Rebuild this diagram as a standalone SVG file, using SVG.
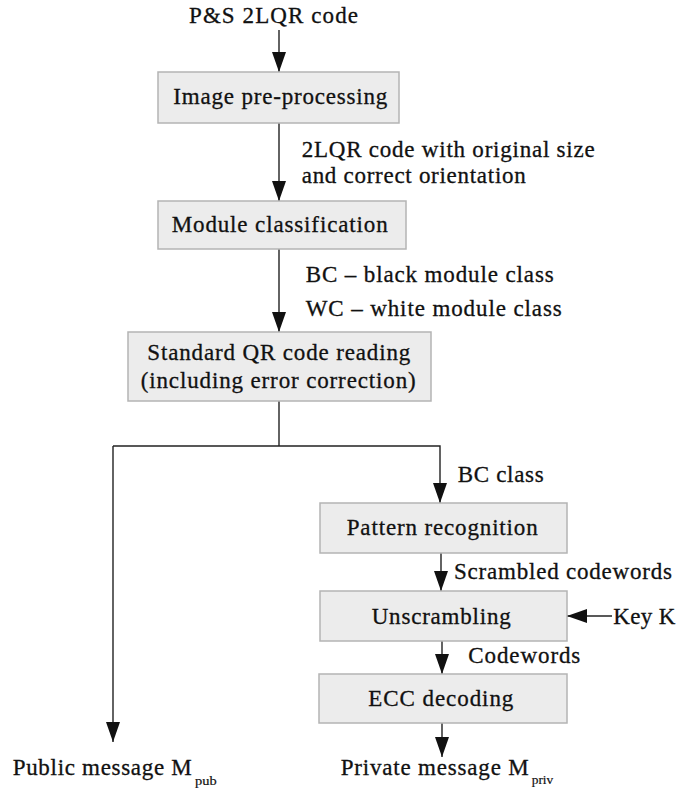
<svg xmlns="http://www.w3.org/2000/svg" width="676" height="793" viewBox="0 0 676 793">
<style>
text{font-family:"Liberation Serif","Times New Roman",serif;font-size:23px;fill:#111;stroke:#111;stroke-width:0.3}
.sub{font-size:13px;stroke-width:0.2}
.box{fill:#ececec;stroke:#b4b4b4;stroke-width:1.5}
.ln{fill:none;stroke:#222;stroke-width:1.4}
.arr{marker-end:url(#ah)}
</style>
<defs>
<marker id="ah" markerUnits="userSpaceOnUse" markerWidth="20" markerHeight="16" refX="20" refY="8" orient="auto" viewBox="0 0 20 16">
<path d="M0,1 L20,8 L0,15 z" fill="#111"/>
</marker>
</defs>
<rect width="676" height="793" fill="#fff"/>
<g id="connectors">
<line class="ln arr" x1="279" y1="30" x2="279" y2="72"/>
<line class="ln arr" x1="279" y1="123" x2="279" y2="201"/>
<line class="ln arr" x1="279" y1="249" x2="279" y2="332"/>
<polyline class="ln" points="279,401 279,446"/>
<polyline class="ln arr" points="113,446 113,742"/>
<polyline class="ln arr" points="113,446 440,446 440,503"/>
<line class="ln arr" x1="441" y1="553" x2="441" y2="591"/>
<line class="ln arr" x1="612" y1="616" x2="567" y2="616"/>
<line class="ln arr" x1="442" y1="641" x2="442" y2="674"/>
<line class="ln arr" x1="442" y1="723" x2="442" y2="757"/>
<text x="301.7" y="157" textLength="293" lengthAdjust="spacing">2LQR code with original size</text>
<text x="301.7" y="183" textLength="224" lengthAdjust="spacing">and correct orientation</text>
<text x="305.7" y="282" textLength="248" lengthAdjust="spacing">BC – black module class</text>
<text x="305.7" y="316" textLength="256" lengthAdjust="spacing">WC – white module class</text>
<text x="457.7" y="482" textLength="86" lengthAdjust="spacing">BC class</text>
<text x="454" y="579" textLength="218" lengthAdjust="spacing">Scrambled codewords</text>
<text x="468.3" y="663" textLength="112" lengthAdjust="spacing">Codewords</text>
</g>
<g id="input">
<text x="189" y="23" textLength="169" lengthAdjust="spacing">P&amp;S 2LQR code</text>
</g>
<g id="preprocessing">
<rect class="box" x="158" y="72" width="241" height="51"/>
<text x="173.3" y="104" textLength="214" lengthAdjust="spacing">Image pre-processing</text>
</g>
<g id="classification">
<rect class="box" x="158" y="201" width="248" height="48"/>
<text x="171.7" y="232" textLength="216" lengthAdjust="spacing">Module classification</text>
</g>
<g id="qrreading">
<rect class="box" x="128" y="332" width="303" height="69"/>
<text x="147.3" y="360" textLength="263" lengthAdjust="spacing">Standard QR code reading</text>
<text x="140.7" y="388" textLength="275" lengthAdjust="spacing">(including error correction)</text>
</g>
<g id="pattern">
<rect class="box" x="320" y="503" width="247" height="50"/>
<text x="346.7" y="535" textLength="191" lengthAdjust="spacing">Pattern recognition</text>
</g>
<g id="unscrambling">
<rect class="box" x="320" y="591" width="247" height="50"/>
<text x="371.7" y="624" textLength="139" lengthAdjust="spacing">Unscrambling</text>
</g>
<g id="key">
<text x="613.3" y="624" textLength="62" lengthAdjust="spacing">Key K</text>
</g>
<g id="ecc">
<rect class="box" x="319" y="674" width="248" height="49"/>
<text x="368.3" y="706" textLength="145" lengthAdjust="spacing">ECC decoding</text>
</g>
<g id="public">
<text x="12.7" y="775" textLength="179" lengthAdjust="spacing">Public message M</text>
<text class="sub" x="195" y="785" textLength="21.7" lengthAdjust="spacingAndGlyphs">pub</text>
</g>
<g id="private">
<text x="340.7" y="775" textLength="188" lengthAdjust="spacing">Private message M</text>
<text class="sub" x="531.7" y="784" textLength="21.6" lengthAdjust="spacingAndGlyphs">priv</text>
</g>
</svg>
